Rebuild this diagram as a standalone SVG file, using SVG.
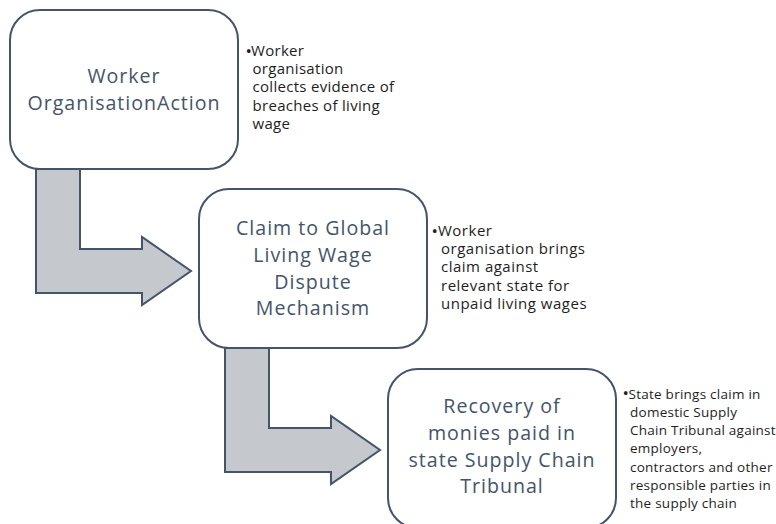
<svg xmlns="http://www.w3.org/2000/svg" width="776" height="524" viewBox="0 0 776 524">
  <style>
    .box { fill: #ffffff; stroke: #44546A; stroke-width: 2; }
    .bend { fill: #C5C8CC; stroke: #44546A; stroke-width: 2; stroke-linejoin: miter; }
    .title { font-family: "Open Sans", "Noto Sans", sans-serif; font-size: 19.6px; letter-spacing: 1px; fill: #44546A; text-anchor: middle; }
    .note { font-family: "Open Sans", "Noto Sans", sans-serif; fill: #1E1E1E; }
    .dot { font-family: "Open Sans", "Noto Sans", sans-serif; font-size: 17px; fill: #1E1E1E; }
    .n1 { font-size: 15px; letter-spacing: 0.3px; }
    .n2 { font-size: 15px; letter-spacing: 0.5px; }
    .n3 { font-size: 13.5px; letter-spacing: 0.25px; }
  </style>
  <rect width="776" height="524" fill="#ffffff"/>

  <!-- bent arrows linking the steps -->
  <g id="connectors">
    <polygon class="bend" points="36,169 80,169 80,249 142,249 142,237 191,271 142,305 142,293 36,293"/>
    <polygon class="bend" points="225,348 269,348 269,428 331,428 331,416 380,450 331,484 331,472 225,472"/>
  </g>

  <!-- step 1 -->
  <g id="worker-action">
    <rect class="box" x="10" y="10" width="228" height="159" rx="30" ry="30"/>
    <text class="title"><tspan x="124" y="83.3">Worker</tspan><tspan x="124" y="110">OrganisationAction</tspan></text>
    <text class="dot" x="245.5" y="56.5">•</text>
    <text class="note n1"><tspan x="251" y="55.7">Worker</tspan><tspan x="252.5" y="74">organisation</tspan><tspan x="252.5" y="92.3">collects evidence of</tspan><tspan x="252.5" y="110.6">breaches of living</tspan><tspan x="252.5" y="128.9">wage</tspan></text>
  </g>

  <!-- step 2 -->
  <g id="dispute-claim">
    <rect class="box" x="199" y="189" width="228" height="159" rx="30" ry="30"/>
    <text class="title"><tspan x="313" y="235.3">Claim to Global</tspan><tspan x="313" y="262">Living Wage</tspan><tspan x="313" y="288.7">Dispute</tspan><tspan x="313" y="315.4">Mechanism</tspan></text>
    <text class="dot" x="431.5" y="236.5">•</text>
    <text class="note n2"><tspan x="438" y="235.7">Worker</tspan><tspan x="441" y="254">organisation brings</tspan><tspan x="441" y="272.3">claim against</tspan><tspan x="441" y="290.6">relevant state for</tspan><tspan x="441" y="308.9">unpaid living wages</tspan></text>
  </g>

  <!-- step 3 -->
  <g id="tribunal-recovery">
    <rect class="box" x="388" y="369" width="228" height="159" rx="30" ry="30"/>
    <text class="title"><tspan x="502" y="413.3">Recovery of</tspan><tspan x="502" y="440">monies paid in</tspan><tspan x="502" y="466.7">state Supply Chain</tspan><tspan x="502" y="493.4">Tribunal</tspan></text>
    <text class="dot" x="622.5" y="399.3">•</text>
    <text class="note n3"><tspan x="628.5" y="398.5">State brings claim in</tspan><tspan x="630" y="416.8">domestic Supply</tspan><tspan x="630" y="435.1">Chain Tribunal against</tspan><tspan x="630" y="453.4">employers,</tspan><tspan x="630" y="471.7">contractors and other</tspan><tspan x="630" y="490">responsible parties in</tspan><tspan x="630" y="508.3">the supply chain</tspan></text>
  </g>
</svg>
